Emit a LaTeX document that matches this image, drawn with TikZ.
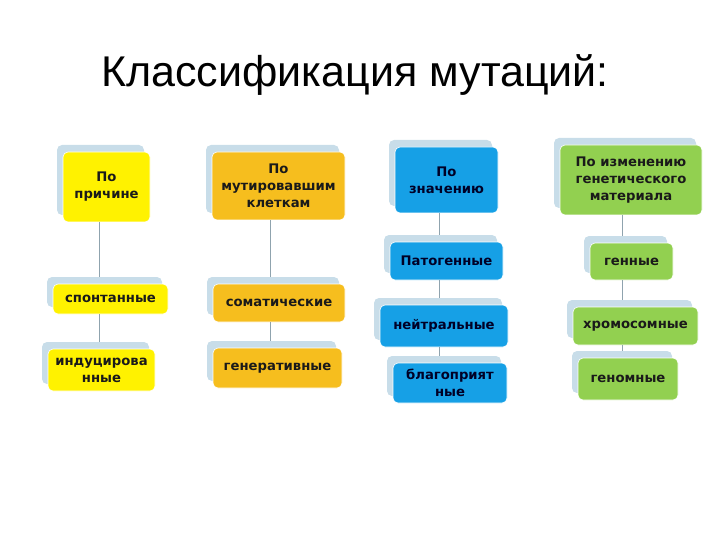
\documentclass[tikz,border=0pt]{standalone}
\usepackage{fontspec}
\setmainfont{Liberation Sans}
\newfontfamily\boxfont{DejaVu Sans}
\usetikzlibrary{shadows}
\definecolor{shadowblue}{HTML}{C8DDE9}
\definecolor{yel}{HTML}{FFF200}
\definecolor{ora}{HTML}{F6BE1E}
\definecolor{blu}{HTML}{16A0E6}
\definecolor{gre}{HTML}{92D050}
\definecolor{conn}{HTML}{8FA3AE}
\definecolor{txt}{HTML}{1A1A1A}
\tikzset{
  box/.style={rounded corners=5pt, draw=white, line width=0.6pt, align=center,
    inner sep=1pt, text=txt,
    font=\boxfont\bfseries\fontsize{13.2}{17}\selectfont,
    general shadow={fill=shadowblue, shadow xshift=-6pt, shadow yshift=7pt}},
  ybox/.style={box, fill=yel},
  obox/.style={box, fill=ora},
  bbox/.style={box, fill=blu, text=black!85!blue},
  gbox/.style={box, fill=gre},
  link/.style={draw=conn, line width=0.9pt}
}
\begin{document}
\begin{tikzpicture}[x=1pt,y=-1pt]
\useasboundingbox (0,0) rectangle (720,540);
\node[font=\fontsize{43}{50}\selectfont, anchor=base] (title) at (355,87) {Классификация мутаций:};

% column 1
\node[ybox, minimum width=87pt, minimum height=70pt] (h1) at (106.5,187) {По\\причине};
\node[ybox, minimum width=115pt, minimum height=30pt] (a1) at (110.5,299) {спонтанные};
\node[ybox, minimum width=107pt, minimum height=42pt] (a2) at (101.5,370) {индуцирова\\нные};

% column 2
\node[obox, minimum width=133pt, minimum height=68pt] (h2) at (278.5,186) {По\\мутировавшим\\клеткам};
\node[obox, minimum width=132pt, minimum height=38pt] (b1) at (279,303) {соматические};
\node[obox, minimum width=129pt, minimum height=40pt] (b2) at (277.5,368) {генеративные};

% column 3
\node[bbox, minimum width=103pt, minimum height=66pt] (h3) at (446.5,180) {По\\значению};
\node[bbox, minimum width=113pt, minimum height=38pt] (c1) at (446.5,261) {Патогенные};
\node[bbox, minimum width=128pt, minimum height=42pt] (c2) at (444,326) {нейтральные};
\node[bbox, minimum width=114pt, minimum height=40pt] (c3) at (450,383) {благоприят\\ные};

% column 4
\node[gbox, minimum width=142pt, minimum height=70pt] (h4) at (631,180) {По изменению\\генетического\\материала};
\node[gbox, minimum width=83pt, minimum height=37pt] (d1) at (631.5,261.5) {генные};
\node[gbox, minimum width=125pt, minimum height=38pt] (d2) at (635.5,326) {хромосомные};
\node[gbox, minimum width=100pt, minimum height=42pt] (d3) at (628,379) {геномные};

% connectors
\coordinate (x1) at (99,0);
\coordinate (x2) at (270,0);
\coordinate (x3) at (439,0);
\coordinate (x4) at (622,0);
\draw[link] (h1.south -| x1) -- ([yshift=7pt]a1.north -| x1);
\draw[link] (a1.south -| x1) -- ([yshift=7pt]a2.north -| x1);
\draw[link] (h2.south -| x2) -- ([yshift=7pt]b1.north -| x2);
\draw[link] (b1.south -| x2) -- ([yshift=7pt]b2.north -| x2);
\draw[link] (h3.south -| x3) -- ([yshift=7pt]c1.north -| x3);
\draw[link] (c1.south -| x3) -- ([yshift=7pt]c2.north -| x3);
\draw[link] (c2.south -| x3) -- ([yshift=7pt]c3.north -| x3);
\draw[link] (h4.south -| x4) -- ([yshift=7pt]d1.north -| x4);
\draw[link] (d1.south -| x4) -- ([yshift=7pt]d2.north -| x4);
\draw[link] (d2.south -| x4) -- ([yshift=7pt]d3.north -| x4);
\end{tikzpicture}
\end{document}
